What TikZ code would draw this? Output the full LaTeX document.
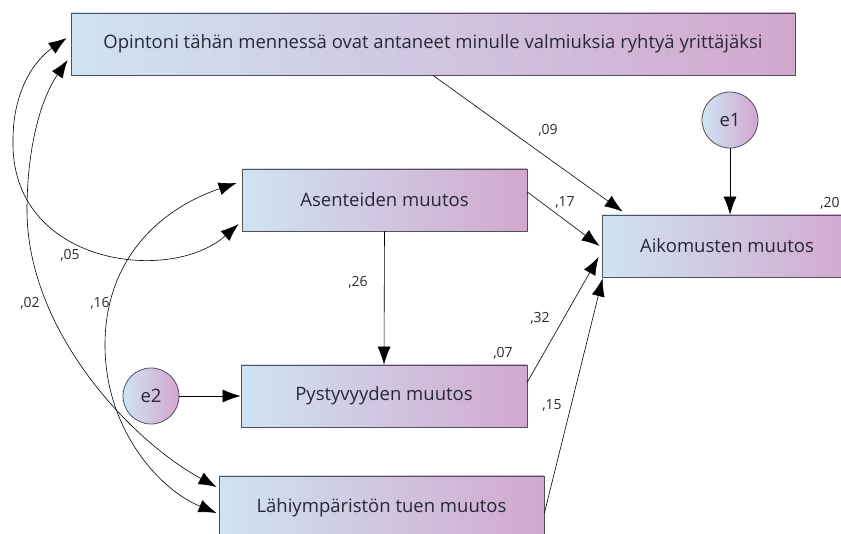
\documentclass[tikz,border=0pt]{standalone}
\usepackage{fontspec}
\setmainfont{Open Sans}
\usetikzlibrary{arrows.meta}
\definecolor{boxblue}{RGB}{207,227,243}
\definecolor{boxpink}{RGB}{210,168,206}
\definecolor{boxline}{RGB}{80,80,90}
\definecolor{txt}{RGB}{40,40,50}
\begin{document}
\begin{tikzpicture}[x=1pt,y=-1pt,
    var/.style={draw=boxline, line width=0.8pt, left color=boxblue, right color=boxpink,
      text=txt, inner sep=0pt, font=\fontsize{18.5}{22}\selectfont},
    err/.style={var, circle, minimum size=56pt},
    coef/.style={text=txt, inner sep=0pt, font=\fontsize{14}{16}\selectfont},
    effect/.style={-{Latex[length=18pt,width=13pt]}, line width=0.6pt},
    corr/.style={{Latex[length=18pt,width=13pt]}-{Latex[length=18pt,width=13pt]}, line width=0.6pt}]
  \useasboundingbox (0,0) rectangle (841,534);
  \clip (0,0) rectangle (841,534);
  % muuttujat
  \node[var, minimum width=724pt, minimum height=62pt] (opinnot) at (433,44)
    {Opintoni tähän mennessä ovat antaneet minulle valmiuksia ryhtyä yrittäjäksi};
  \node[var, minimum width=285pt, minimum height=62pt] (asenteet) at (384.5,200) {Asenteiden muutos};
  \node[var, minimum width=286pt, minimum height=62pt] (pysty) at (384,396) {Pystyvyyden muutos};
  \node[var, minimum width=325pt, minimum height=64pt] (lahi) at (381.5,508) {Lähiympäristön tuen muutos};
  \node[var, minimum width=250pt, minimum height=62pt] (aikom) at (727,246) {Aikomusten muutos};
  \node[err] (e1) at (730,120) {e1};
  \node[err] (e2) at (151,396) {e2};
  % suorat vaikutukset
  \draw[effect] (opinnot.south) -- ([xshift=21pt,yshift=3pt]aikom.north west);
  \draw[effect] (e1.south) -- (e1.south |- aikom.north);
  \draw[effect] ([yshift=8pt]asenteet.east) -- ([xshift=-2pt]aikom.west);
  \draw[effect] ([yshift=14pt]pysty.east) -- ([xshift=-3pt,yshift=-11pt]aikom.west);
  \draw[effect] ([yshift=-5pt]lahi.east) -- ([xshift=1pt,yshift=-1pt]aikom.south west);
  \draw[effect] (asenteet.south) -- (pysty.north);
  \draw[effect] (e2) -- (pysty);
  % korrelaatiot
  \draw[corr] ([xshift=-4pt,yshift=6pt]opinnot.west) .. controls (35,60) and (13,90) .. (13,140)
    .. controls (10,265) and (170,285) .. ([xshift=-3pt,yshift=-24pt]asenteet.west);
  \draw[corr] ([xshift=-3pt,yshift=-16pt]opinnot.west) .. controls (40,100) and (27,150) .. (27,210)
    .. controls (27,330) and (130,440) .. ([xshift=-2pt,yshift=21pt]lahi.west);
  \draw[corr] ([xshift=-5pt,yshift=17pt]asenteet.west) .. controls (165,207) and (105,255) .. (105,345)
    .. controls (105,430) and (160,490) .. ([xshift=-2pt,yshift=-5pt]lahi.west);
  % kertoimet
  \node[coef] (c09) at (548,130) {,09};
  \node[coef] (c17) at (565,202) {,17};
  \node[coef] (c20) at (830,203) {,20};
  \node[coef] (c26) at (358,282) {,26};
  \node[coef] (c32) at (540,318) {,32};
  \node[coef] (c07) at (503,353) {,07};
  \node[coef] (c15) at (552,405) {,15};
  \node[coef] (c05) at (70,255) {,05};
  \node[coef] (c02) at (30,303) {,02};
  \node[coef] (c16) at (100,303) {,16};
\end{tikzpicture}
\end{document}
